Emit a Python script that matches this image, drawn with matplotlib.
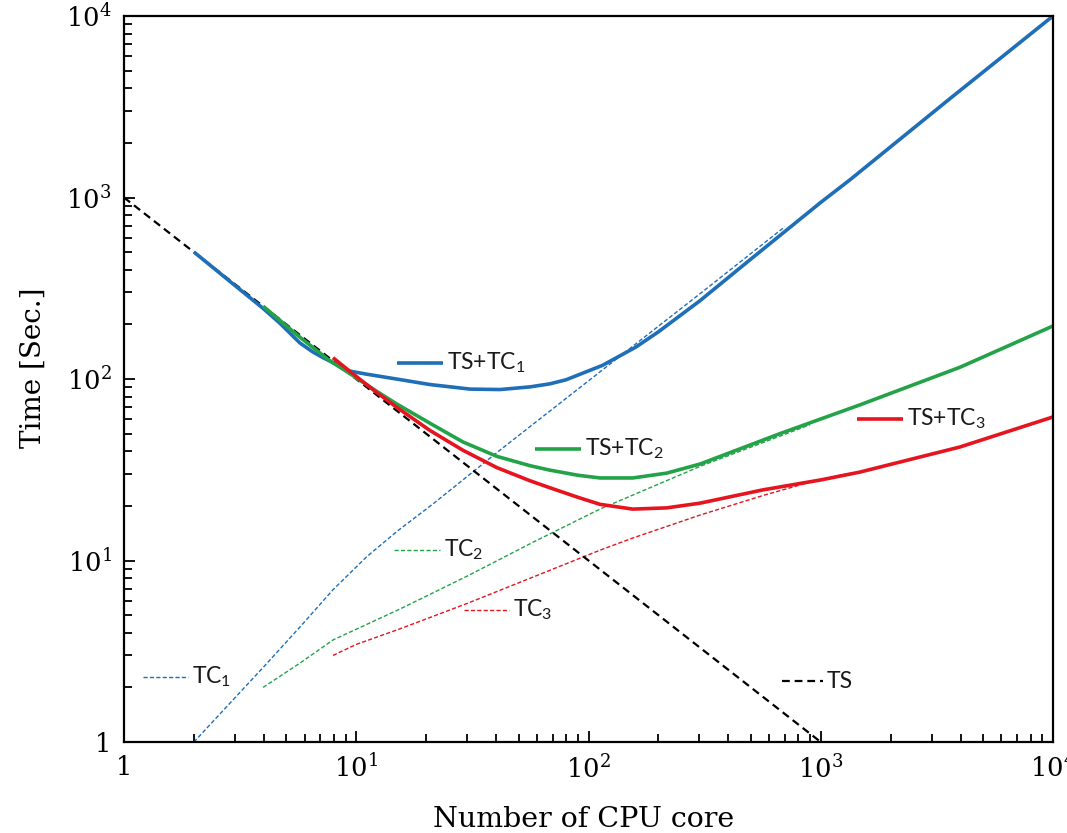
import matplotlib
matplotlib.use('Agg')
import matplotlib.pyplot as plt
from matplotlib.ticker import LogLocator, NullFormatter

plt.rcParams['font.family'] = ['DejaVu Serif']

# ---------------- data ----------------
ts_x = [1, 1000]
ts_y = [1000, 1]

tc1_x = [2, 3, 4, 5.72, 7.94, 11.1, 15, 21.4, 41.6, 101, 302, 700]
tc1_y = [1, 1.75, 2.6, 4.3, 6.9, 10.5, 14.5, 20.5, 40.6, 98.7, 295, 690]

tc2_x = [3.97, 5.72, 7.94, 15.4, 30, 57.6, 112, 302, 586, 900]
tc2_y = [2.0, 2.72, 3.65, 5.4, 8.2, 12.6, 19.2, 33, 45.5, 56]

tc3_x = [7.94, 10, 15.4, 30, 57.6, 112, 155, 302, 563, 925, 1334]
tc3_y = [3.0, 3.45, 4.2, 5.8, 8.1, 11.4, 13.3, 17.8, 22.8, 27.3, 30.3]

ts_tc1_x = [2, 2.94, 3.97, 4.69, 5.72, 6.5, 7.2, 7.9, 8.6, 9.4, 11, 12.5,
            14.9, 20.8, 30.9, 41.6, 56, 68, 80, 115, 160, 200, 302, 495, 1000,
            1334, 3594, 10000]
ts_tc1_y = [501, 335, 245, 203, 158, 141, 131, 123.5, 116.5, 110.5, 106.5,
            103.7, 100, 93.2, 88, 87.5, 90.5, 94, 99, 119, 150, 182, 270, 453,
            940, 1250, 3500, 10000]

ts_tc2_x = [3.97, 5.72, 7.7, 9.4, 12, 14.9, 20.8, 28.8, 40.3, 56, 68, 90, 112,
            155, 217, 302, 667, 1473, 3970, 10000]
ts_tc2_y = [252, 170, 126, 107, 87, 73, 57, 45, 37.5, 33.3, 31.5, 29.5, 28.5,
            28.5, 30.3, 34, 50, 72, 116, 196]

ts_tc3_x = [7.94, 9.4, 12, 14.9, 20.8, 28.8, 40.3, 56, 68, 90, 112, 155, 217,
            302, 563, 1000, 1473, 3970, 10000]
ts_tc3_y = [131, 110, 86, 70, 52, 40.5, 32.5, 27.5, 25.2, 22.3, 20.4, 19.2,
            19.5, 20.7, 24.5, 27.8, 30.7, 42.2, 61.8]

ticks = [1, 10, 100, 1000, 10000]
tick_labels = ['1', r'$\mathregular{10^{1}}$', r'$\mathregular{10^{2}}$',
               r'$\mathregular{10^{3}}$', r'$\mathregular{10^{4}}$']

BLUE = '#1F6FB8'
GREEN = '#23A348'
RED = '#E6141E'

# ---------------- figure ----------------
fig = plt.figure(figsize=(10.67, 8.33), dpi=100)
ax = fig.add_axes([0.1162, 0.1092, 0.8707, 0.8716])
ax.set_xscale('log')
ax.set_yscale('log')

thin = dict(lw=1.0, dashes=(3, 1.6))
ax.plot(tc1_x, tc1_y, color=BLUE, **thin)
ax.plot(tc2_x, tc2_y, color=GREEN, **thin)
ax.plot(tc3_x, tc3_y, color=RED, **thin)
ax.plot(ts_x, ts_y, color='black', lw=1.6, dashes=(3.5, 2.2))
ax.plot(ts_tc1_x, ts_tc1_y, color=BLUE, lw=2.6, solid_capstyle='butt',
        solid_joinstyle='round')
ax.plot(ts_tc2_x, ts_tc2_y, color=GREEN, lw=2.6, solid_capstyle='butt',
        solid_joinstyle='round')
ax.plot(ts_tc3_x, ts_tc3_y, color=RED, lw=2.6, solid_capstyle='butt',
        solid_joinstyle='round')

ax.set_xlim(1, 1e4)
ax.set_ylim(1, 1e4)
ax.set_xticks(ticks)
ax.set_xticklabels(tick_labels)
ax.set_yticks(ticks)
ax.set_yticklabels(tick_labels)
for axis in (ax.xaxis, ax.yaxis):
    axis.set_minor_locator(LogLocator(base=10, subs=range(2, 10), numticks=20))
    axis.set_minor_formatter(NullFormatter())
ax.tick_params(which='both', direction='in', top=False, right=False, width=1.3,
               colors='black')
ax.tick_params(which='major', length=8, pad=9, labelsize=18.5)
ax.tick_params(which='minor', length=5.5)
for s in ax.spines.values():
    s.set_linewidth(1.6)
    s.set_color('black')

ax.set_xlabel('Number of CPU core', fontsize=20.5)
ax.set_ylabel('Time [Sec.]', fontsize=20)
ax.xaxis.set_label_coords(0.495, -0.088)
ax.yaxis.set_label_coords(-0.083, 0.515)

# ---------------- in-plot keys ----------------
def fx(px):
    return (px - 124) / 929.0

def fy(py):
    return (742 - py) / 726.0

keys = [
    (397, 443, 363, 'TS+TC$\\mathregular{_1}$', BLUE, 'solid'),
    (535, 581, 449, 'TS+TC$\\mathregular{_2}$', GREEN, 'solid'),
    (857, 903, 419, 'TS+TC$\\mathregular{_3}$', RED, 'solid'),
    (394, 440, 550, 'TC$\\mathregular{_2}$', GREEN, 'thin'),
    (464, 509, 610, 'TC$\\mathregular{_3}$', RED, 'thin'),
    (143, 188, 677, 'TC$\\mathregular{_1}$', BLUE, 'thin'),
    (782, 823, 681, 'TS', 'black', 'ts'),
]
for x0, x1, yy, txt, col, sty in keys:
    if sty == 'solid':
        kw = dict(lw=2.6, solid_capstyle='butt')
    elif sty == 'thin':
        kw = dict(lw=1.0, dashes=(3, 1.6))
    else:
        kw = dict(lw=1.6, dashes=(3.5, 2.2))
    ax.plot([fx(x0), fx(x1)], [fy(yy), fy(yy)], color=col,
            transform=ax.transAxes, clip_on=False, **kw)
    ax.text(fx(x1 + 4), fy(yy), txt, transform=ax.transAxes, ha='left',
            va='center', fontsize=16.5, family='Lato', color='#1a1a1a')

fig.savefig('out.png', dpi=100)
